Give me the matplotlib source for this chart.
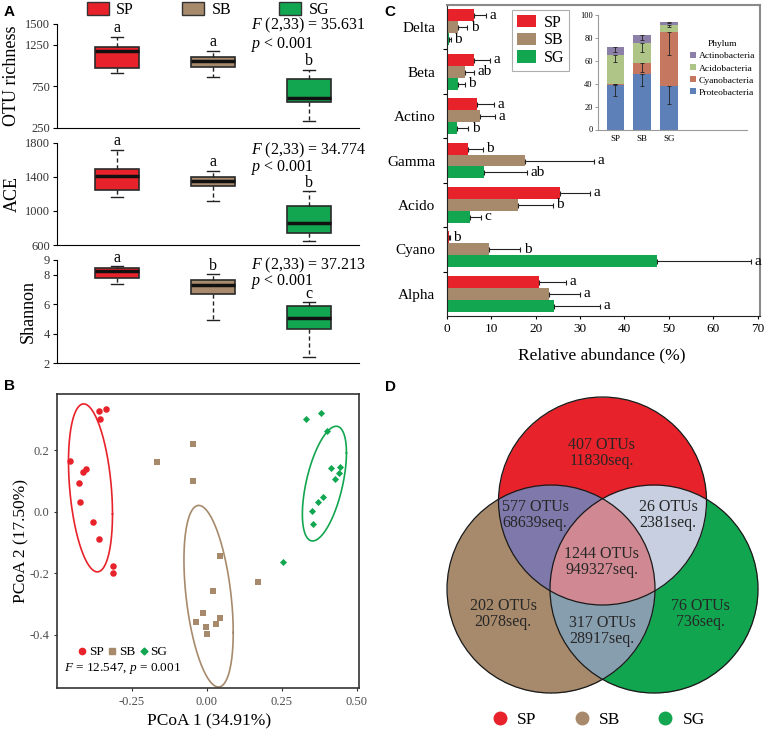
import numpy as np
import matplotlib
matplotlib.use('Agg')
import matplotlib.pyplot as plt
from matplotlib.patches import Patch, Circle
from matplotlib.lines import Line2D

plt.rcParams['font.family'] = ['Liberation Serif', 'DejaVu Serif']
plt.rcParams['mathtext.fontset'] = 'custom'
plt.rcParams['mathtext.rm'] = 'Liberation Serif'
plt.rcParams['mathtext.it'] = 'Liberation Serif:italic'

groups = ['SP', 'SB', 'SG']
colors = ['#E8222A', '#A78A6B', '#12A650']

# ---- A: alpha diversity (whislo, q1, median, q3, whishi)
otu_box = [[908, 966, 1175, 1220, 1347], [864, 980, 1060, 1105, 1178], [334, 558, 614, 842, 946]]
ace_box = [[1164, 1250, 1411, 1493, 1715], [1120, 1291, 1353, 1400, 1472], [645, 742, 856, 1055, 1231]]
shannon_box = [[7.38, 7.78, 8.28, 8.48, 8.57], [4.97, 6.73, 7.30, 7.67, 8.03], [2.46, 4.31, 5.06, 5.89, 6.14]]
otu_letters = ['a', 'a', 'b']
ace_letters = ['a', 'a', 'b']
shannon_letters = ['a', 'b', 'c']
f_values = ['35.631', '34.774', '37.213']

# ---- B: PCoA
sp_x = [-0.358, -0.337, -0.357, -0.455, -0.411, -0.403, -0.426, -0.422, -0.378, -0.358, -0.311, -0.312]
sp_y = [0.328, 0.333, 0.300, 0.166, 0.129, 0.138, 0.092, 0.031, -0.033, -0.090, -0.176, -0.198]
sb_x = [-0.047, -0.167, -0.047, 0.043, 0.019, -0.011, -0.037, -0.002, 0.000, 0.031, 0.044, 0.171]
sb_y = [0.220, 0.160, 0.099, -0.144, -0.257, -0.328, -0.358, -0.374, -0.397, -0.365, -0.346, -0.229]
sg_x = [0.329, 0.381, 0.399, 0.415, 0.443, 0.440, 0.427, 0.388, 0.371, 0.350, 0.355, 0.255]
sg_y = [0.300, 0.321, 0.262, 0.141, 0.146, 0.125, 0.106, 0.049, 0.030, 0.003, -0.040, -0.162]

# ---- C: class relative abundance
classes = ['Delta', 'Beta', 'Actino', 'Gamma', 'Acido', 'Cyano', 'Alpha']
sp_mean = [6.2, 6.1, 6.8, 4.9, 25.6, 0.45, 20.8]
sp_sd = [2.7, 3.7, 3.8, 3.2, 6.7, 0.2, 6.0]
sb_mean = [2.5, 4.2, 7.5, 17.6, 16.1, 9.6, 23.1]
sb_sd = [2.1, 2.0, 3.4, 15.6, 7.8, 7.0, 6.8]
sg_mean = [0.6, 2.6, 2.4, 8.3, 5.3, 47.4, 24.2]
sg_sd = [0.3, 1.5, 2.5, 9.8, 2.4, 21.1, 10.3]
sp_let = ['a', 'a', 'a', 'b', 'a', 'b', 'a']
sb_let = ['b', 'ab', 'a', 'a', 'b', 'b', 'a']
sg_let = ['b', 'b', 'b', 'ab', 'c', 'a', 'a']

# inset: phylum
phyla = ['Proteobacteria', 'Cyanobacteria', 'Acidobacteria', 'Actinobacteria']
proteo = [39.1, 48.7, 38.3]
cyano = [0.3, 9.8, 47.2]
acido = [25.8, 16.9, 6.1]
actino = [6.7, 7.2, 2.3]
proteo_err = [10, 11, 16]
cyano_err = [0, 8, 20]
acido_err = [6, 8, 2]
actino_err = [4, 4, 1]
phylum_colors = ['#5E80B9', '#C5775F', '#AFC487', '#8C80A8']

# ---- D: venn
venn_otus = [407, 202, 76, 577, 26, 317, 1244]
venn_seqs = [11830, 2078, 736, 68639, 2381, 28917, 949327]

W, H = 767, 730
fig = plt.figure(figsize=(7.67, 7.30), dpi=100)


def rect(l, t, r, b):
    return [l / W, 1 - b / H, (r - l) / W, (b - t) / H]


def box_panel(ax, five, letters, ylim, yticks, ylabel, lab_x, fval, fy):
    stats = [dict(whislo=f[0], q1=f[1], med=f[2], q3=f[3], whishi=f[4], fliers=[]) for f in five]
    bp = ax.bxp(stats, positions=[1, 2, 3], widths=0.46, patch_artist=True, showfliers=False,
                capwidths=0.13,
                boxprops=dict(linewidth=1.2),
                medianprops=dict(color='#111111', linewidth=2.5),
                whiskerprops=dict(linestyle=(0, (3, 2)), linewidth=1, color='#222222'),
                capprops=dict(linewidth=1, color='#222222'))
    for patch, c in zip(bp['boxes'], colors):
        patch.set_facecolor(c)
        patch.set_edgecolor('#2a2a2a')
    for i, (f, l) in enumerate(zip(five, letters)):
        ax.annotate(l, (i + 1, f[4]), xytext=(0, 0.5), textcoords='offset points',
                    ha='center', va='bottom', fontsize=11.5)
    ax.set_xlim(0.375, 3.52)
    ax.set_ylim(*ylim)
    ax.set_yticks(yticks)
    for s in ['top', 'right']:
        ax.spines[s].set_visible(False)
    ax.tick_params(axis='x', bottom=False, labelbottom=False)
    ax.tick_params(axis='y', length=3, width=0.8, labelsize=9, labelcolor='#333333', pad=2)
    ax.set_ylabel(ylabel, fontsize=13)
    ax.yaxis.set_label_coords(lab_x, 0.5)
    ax.text(0.641, fy[0], r'$F$ (2,33) = ' + fval, transform=ax.transAxes, fontsize=11.5, va='center')
    ax.text(0.641, fy[1], r'$p$ < 0.001', transform=ax.transAxes, fontsize=11.5, va='center')


ax1 = fig.add_axes(rect(57, 24, 359, 128))
box_panel(ax1, otu_box, otu_letters, (250, 1500), [250, 750, 1250, 1500], 'OTU richness', -0.124,
          f_values[0], (0.99, 0.80))
ax2 = fig.add_axes(rect(57, 142.7, 359, 245))
box_panel(ax2, ace_box, ace_letters, (600, 1800), [600, 1000, 1400, 1800], 'ACE', -0.12,
          f_values[1], (0.92, 0.755))
ax3 = fig.add_axes(rect(57, 260, 359, 363.5))
box_panel(ax3, shannon_box, shannon_letters, (2, 9), [2, 4, 6, 8, 9], 'Shannon', -0.066,
          f_values[2], (0.95, 0.795))

handles = [Patch(facecolor=c, edgecolor='#333333', linewidth=1) for c in colors]
fig.legend(handles, groups, loc='center', bbox_to_anchor=(208 / W, 1 - 10 / H), ncol=3, frameon=False,
           fontsize=11.5, handlelength=1.4, handleheight=0.8, handletextpad=0.45, columnspacing=3.0)

# ---- B
axb = fig.add_axes(rect(57, 394, 359, 688))


def t_ellipse(x, y, level=0.77, nu=3):
    pts = np.column_stack([x, y])
    m = pts.mean(0)
    S = np.cov(pts.T)
    for _ in range(200):
        d = pts - m
        dist = np.einsum('ij,jk,ik->i', d, np.linalg.inv(S), d)
        w = (nu + 2) / (nu + dist)
        m = (w[:, None] * pts).sum(0) / w.sum()
        d = pts - m
        S = np.einsum('i,ij,ik->jk', w, d, d) / len(pts)
    dfd = len(pts) - 1
    qf = dfd / 2 * ((1 - level) ** (-2 / dfd) - 1)
    r = np.sqrt(2 * qf)
    th = np.linspace(0, 2 * np.pi, 200)
    unit = np.column_stack([np.cos(th), np.sin(th)])
    L = np.linalg.cholesky(S)
    e = m + r * unit @ L.T
    return e[:, 0], e[:, 1]


for xs, ys, c, mk, s in [(sp_x, sp_y, colors[0], 'o', 22), (sb_x, sb_y, colors[1], 's', 22),
                         (sg_x, sg_y, colors[2], 'D', 13)]:
    axb.scatter(xs, ys, c=c, marker=mk, s=s, linewidths=0, zorder=3)
    ex, ey = t_ellipse(xs, ys)
    axb.plot(ex, ey, color=c, lw=1.2)

axb.set_xlim(-0.499, 0.507)
axb.set_ylim(-0.572, 0.382)
axb.set_xticks([-0.25, 0.0, 0.25, 0.5])
axb.set_xticklabels(['-0.25', '0.00', '0.25', '0.50'])
axb.set_yticks([-0.4, -0.2, 0.0, 0.2])
axb.set_yticklabels(['-0.4', '-0.2', '0.0', '0.2'])
for s in axb.spines.values():
    s.set_color('#333333')
    s.set_linewidth(1.2)
axb.tick_params(length=2.5, width=0.8, labelsize=9, labelcolor='#4D4D4D', color='#333333', pad=3)
axb.set_xlabel('PCoA 1 (34.91%)', fontsize=12.5)
axb.xaxis.set_label_coords(0.502, -0.085)
axb.set_ylabel('PCoA 2 (17.50%)', fontsize=12.5)
axb.yaxis.set_label_coords(-0.092, 0.5)
bh = [Line2D([], [], ls='none', marker=m, color=c, markersize=ms) for m, c, ms in
      [('o', colors[0], 4.5), ('s', colors[1], 4.5), ('D', colors[2], 3.5)]]
axb.legend(bh, groups, loc='center', bbox_to_anchor=(0.218, 0.122), ncol=3, frameon=False, fontsize=9.5,
           handlelength=0.6, handletextpad=0.2, columnspacing=0.35, borderpad=0)
axb.text(0.023, 0.068, r'$F$ = 12.547, $p$ = 0.001', transform=axb.transAxes, fontsize=9.5, va='center')

# ---- C
axc = fig.add_axes(rect(446.7, 5, 760, 316))
n = len(classes)
base = np.array([n - 1 - i for i in range(n)], dtype=float) + 0.5
bh_c = 0.27
for off, mean, sd, let, c in [(bh_c, sp_mean, sp_sd, sp_let, colors[0]),
                              (0, sb_mean, sb_sd, sb_let, colors[1]),
                              (-bh_c, sg_mean, sg_sd, sg_let, colors[2])]:
    yy = base + off
    axc.barh(yy, mean, height=bh_c, color=c, zorder=2)
    axc.errorbar(mean, yy, xerr=[np.zeros(n), sd], fmt='none', ecolor='#222222', elinewidth=0.8,
                 capsize=1.8, capthick=0.8, zorder=3)
    for xm, s, y, l in zip(mean, sd, yy, let):
        axc.annotate(l, (xm + s, y), xytext=(2.5, 0), textcoords='offset points', ha='left', va='center',
                     fontsize=11)
axc.set_xlim(0, 70.5)
axc.set_ylim(0, n)
axc.set_yticks(base)
axc.set_yticklabels(classes, fontsize=11)
axc.set_yticks(np.arange(1, n), minor=True)
axc.tick_params(axis='y', which='major', length=0, pad=8)
axc.tick_params(axis='y', which='minor', length=3, width=0.8)
axc.set_xticks(np.arange(0, 71, 10))
axc.tick_params(axis='x', length=2, width=0.8, labelsize=9.5, pad=3)
axc.spines['left'].set_color('#222222')
axc.spines['bottom'].set_color('#222222')
for s in ['top', 'right']:
    axc.spines[s].set_color('#8a8a8a')
    axc.spines[s].set_linewidth(1.5)
axc.set_xlabel('Relative abundance (%)', fontsize=12.5)
axc.xaxis.set_label_coords(0.496, -0.1)
leg = axc.legend([Patch(facecolor=c) for c in colors], groups, loc='upper left',
                 bbox_to_anchor=(0.2075, 0.984), fontsize=11.5, fancybox=False, edgecolor='#9a9a9a',
                 handlelength=1.2, handleheight=0.8, handletextpad=0.5, labelspacing=0.1, borderpad=0.3,
                 borderaxespad=0)
leg.get_frame().set_linewidth(0.8)

# inset
axi = fig.add_axes(rect(598.3, 15, 747, 129.5))
xi = np.arange(3)
bottom = np.zeros(3)
for vals, err, c in zip([proteo, cyano, acido, actino], [proteo_err, cyano_err, acido_err, actino_err],
                        phylum_colors):
    vals = np.array(vals)
    top = bottom + vals
    axi.bar(xi, vals, bottom=bottom, width=0.66, color=c, zorder=2)
    axi.errorbar(xi, top, yerr=[err, np.zeros(3)], fmt='none', ecolor='#222222', elinewidth=0.6,
                 capsize=1.3, capthick=0.6, zorder=3)
    bottom = top
axi.set_xlim(-0.643, 4.92)
axi.set_ylim(0, 100)
axi.set_yticks(np.arange(0, 101, 20))
axi.set_xticks(xi)
axi.set_xticklabels(groups)
axi.tick_params(axis='y', labelsize=6, length=2, width=0.6, color='#888888', pad=2)
axi.tick_params(axis='x', labelsize=6.5, length=0, pad=4)
for s in ['top', 'right']:
    axi.spines[s].set_visible(False)
for s in ['left', 'bottom']:
    axi.spines[s].set_color('#9a9a9a')
    axi.spines[s].set_linewidth(0.8)
ph = [Patch(facecolor=c) for c in phylum_colors[::-1]]
li = axi.legend(ph, phyla[::-1], title='Phylum', loc='upper left', bbox_to_anchor=(0.585, 0.82),
                frameon=False, fontsize=6.8, title_fontsize=6.8, handlelength=0.6, handleheight=0.6,
                handletextpad=0.3, labelspacing=0.4, borderpad=0)

# ---- D
axd = fig.add_axes([380 / W, 0, 387 / W, 375 / H])
r = 104
centers = [(602.5, 501), (551, 589), (654, 589)]
gx, gy = np.meshgrid(np.arange(440, 765, 0.5), np.arange(390, 700, 0.5))
inside = [(gx - cx) ** 2 + (gy - cy) ** 2 <= r ** 2 for cx, cy in centers]
region_colors = {
    (1, 0, 0): colors[0], (0, 1, 0): colors[1], (0, 0, 1): colors[2],
    (1, 1, 0): '#7F79AA', (1, 0, 1): '#C7CFE0', (0, 1, 1): '#879FAF', (1, 1, 1): '#D08A92',
}
img = np.zeros(gx.shape + (4,))
for key, col in region_colors.items():
    mask = np.ones(gx.shape, bool)
    for k, ins in zip(key, inside):
        mask &= ins if k else ~ins
    img[mask] = matplotlib.colors.to_rgba(col)
axd.imshow(img, extent=(440, 765, 700, 390), origin='upper', interpolation='antialiased', aspect='auto')
for cx, cy in centers:
    axd.add_patch(Circle((cx, cy), r, fill=False, edgecolor='#1a1a1a', linewidth=0.9))
label_pos = [(602, 453), (503, 614), (700, 614), (535, 515), (668, 515), (602, 631), (602, 562)]
for (tx, ty), o, sq in zip(label_pos, venn_otus, venn_seqs):
    axd.text(tx, ty, f'{o} OTUs\n{sq}seq.', ha='center', va='center', fontsize=11.5, color='#262626',
             linespacing=1.0)
axd.set_xlim(380, 767)
axd.set_ylim(730, 355)
axd.axis('off')
dh = [Line2D([], [], ls='none', marker='o', color=c, markersize=9) for c in colors]
fig.legend(dh, groups, loc='center', bbox_to_anchor=(598 / W, 1 - 720 / H), ncol=3, frameon=False,
           fontsize=12.5, handlelength=1.0, handletextpad=0.5, columnspacing=2.1)

# panel letters
for t, x, y in [('A', 9.5, 12), ('B', 9.5, 385.5), ('C', 389.5, 12), ('D', 390, 387)]:
    fig.text(x / W, 1 - y / H, t, fontsize=11, fontweight='bold', family='Liberation Sans',
             ha='center', va='center')

fig.savefig('out.png', dpi=100)
